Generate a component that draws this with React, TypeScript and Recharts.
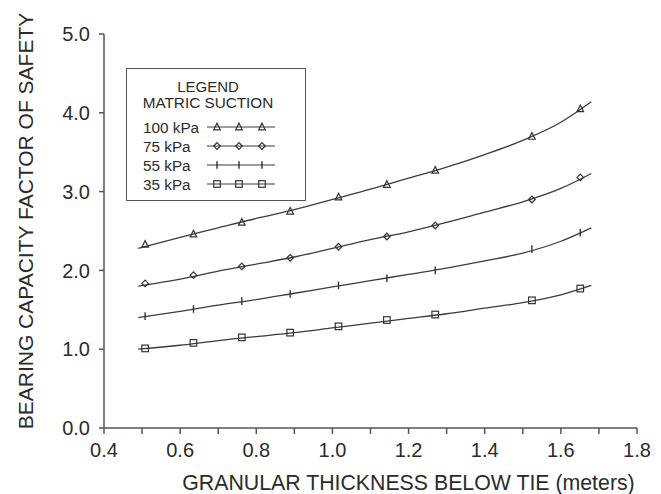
import React from 'react';
import { ComposedChart, Line, Scatter, XAxis, YAxis, Legend } from 'recharts';

// Measured points (granular thickness in meters)
const POINT_X = [0.508, 0.635, 0.762, 0.889, 1.016, 1.143, 1.27, 1.524, 1.651];
const P100 = [2.33, 2.46, 2.61, 2.75, 2.93, 3.09, 3.27, 3.7, 4.05];
const P75 = [1.835, 1.94, 2.05, 2.16, 2.3, 2.43, 2.57, 2.9, 3.18];
const P55 = [1.42, 1.51, 1.61, 1.7, 1.81, 1.9, 2.0, 2.27, 2.48];
const P35 = [1.01, 1.08, 1.15, 1.21, 1.29, 1.37, 1.44, 1.62, 1.77];

// Fitted curves
const CURVE_X = [0.49, 0.6, 0.7, 0.8, 0.9, 1.0, 1.1, 1.2, 1.3, 1.4, 1.5, 1.6, 1.68];
const C100 = [2.28, 2.42, 2.54, 2.66, 2.77, 2.9, 3.03, 3.17, 3.31, 3.47, 3.65, 3.88, 4.14];
const C75 = [1.8, 1.89, 1.99, 2.08, 2.17, 2.28, 2.39, 2.49, 2.61, 2.74, 2.87, 3.04, 3.23];
const C55 = [1.4, 1.48, 1.56, 1.63, 1.71, 1.79, 1.87, 1.95, 2.03, 2.12, 2.22, 2.37, 2.54];
const C35 = [1.0, 1.05, 1.11, 1.16, 1.21, 1.27, 1.33, 1.39, 1.45, 1.52, 1.59, 1.69, 1.81];

const X_TICKS = [0.4, 0.5, 0.6, 0.7, 0.8, 0.9, 1.0, 1.1, 1.2, 1.3, 1.4, 1.5, 1.6, 1.7, 1.8];
const Y_TICKS = [0, 1, 2, 3, 4, 5];

const SERIES_NAMES = ['100 kPa', '75 kPa', '55 kPa', '35 kPa'];
const MARKERS = ['triangle', 'diamond', 'bar', 'square'];
const POINTS = [P100, P75, P55, P35];
const CURVES = [C100, C75, C55, C35];

const X_LABEL = 'GRANULAR THICKNESS BELOW TIE (meters)';
const Y_LABEL = 'BEARING CAPACITY FACTOR OF SAFETY';
const LEGEND_TITLE = 'LEGEND';
const LEGEND_SUBTITLE = 'MATRIC SUCTION';

const FONT = '"Liberation Sans", Arial, Helvetica, sans-serif';
const INK = '#2b2b2b';
const LINE = '#3c3c3c';
const AXIS = '#555';

const series = SERIES_NAMES.map((name, i) => ({
  name,
  marker: MARKERS[i],
  points: POINT_X.map((x, j) => ({ x, y: POINTS[i][j] })),
  curve: CURVE_X.map((x, j) => ({ x, y: CURVES[i][j] })),
}));

function Marker({ cx, cy, kind }: { cx: number; cy: number; kind: string }) {
  const st = { stroke: '#333', strokeWidth: 1.2, fill: 'none' };
  const s = 3.3;
  if (kind === 'triangle') {
    return <path d={`M${cx},${cy - s - 0.5}L${cx + s},${cy + s - 0.5}L${cx - s},${cy + s - 0.5}Z`} {...st} />;
  }
  if (kind === 'diamond') {
    return <path d={`M${cx},${cy - s}L${cx + s},${cy}L${cx},${cy + s}L${cx - s},${cy}Z`} {...st} />;
  }
  if (kind === 'bar') {
    return <path d={`M${cx},${cy - s - 0.5}L${cx},${cy + s + 0.5}`} {...st} strokeWidth={1.4} />;
  }
  return <rect x={cx - s} y={cy - s} width={2 * s} height={2 * s} {...st} />;
}

function LegendBox() {
  const w = 180;
  const h = 133;
  return (
    <div style={{ width: w, height: h, boxSizing: 'border-box', border: `1.5px solid ${AXIS}`, background: '#fff' }}>
      <svg width={w - 3} height={h - 3} style={{ display: 'block' }}>
        <text x={81} y={17} textAnchor="middle" dominantBaseline="central" fontSize={15} fill={INK} fontFamily={FONT}>
          {LEGEND_TITLE}
        </text>
        <text x={81} y={33} textAnchor="middle" dominantBaseline="central" fontSize={15.3} fill={INK} fontFamily={FONT}>
          {LEGEND_SUBTITLE}
        </text>
        {series.map((s, i) => {
          const cy = 58 + i * 19;
          return (
            <g key={s.name}>
              <text x={16} y={cy} dominantBaseline="central" fontSize={15.3} fill={INK} fontFamily={FONT}>
                {s.name}
              </text>
              <line x1={80} x2={148} y1={cy} y2={cy} stroke={LINE} strokeWidth={1.1} />
              {[90, 112, 135].map((mx) => (
                <Marker key={mx} cx={mx} cy={cy} kind={s.marker} />
              ))}
            </g>
          );
        })}
      </svg>
    </div>
  );
}

export default function App() {
  return (
    <div style={{ position: 'absolute', left: 0, top: 0, width: 661, height: 494, background: '#fff' }}>
      <ComposedChart width={661} height={494} margin={{ top: 34, right: 24, bottom: 0, left: 0 }}>
        <XAxis
          xAxisId="b"
          dataKey="x"
          type="number"
          domain={[0.4, 1.8]}
          ticks={X_TICKS}
          interval={0}
          allowDataOverflow
          height={66}
          tickSize={6}
          tickMargin={9}
          tickFormatter={(v: number) => (Math.round(v * 10) % 2 === 0 ? v.toFixed(1) : '')}
          stroke={AXIS}
          strokeWidth={1.5}
          tick={{ fill: INK, fontSize: 20, fontFamily: FONT }}
          label={{
            content: (p: any) => (
              <text
                x={p.viewBox.x + p.viewBox.width / 2 + 38}
                y={483}
                textAnchor="middle"
                dominantBaseline="central"
                fontSize={21.3}
                fill={INK}
                fontFamily={FONT}
              >
                {X_LABEL}
              </text>
            ),
          }}
        />
        <XAxis
          xAxisId="t"
          orientation="top"
          type="number"
          domain={[0.4, 1.8]}
          height={0}
          tick={false}
          tickLine={false}
          stroke="#777"
          strokeWidth={1.5}
        />
        <YAxis
          yAxisId="l"
          type="number"
          domain={[0, 5]}
          ticks={Y_TICKS}
          interval={0}
          width={104}
          tickSize={5}
          tickMargin={9}
          tickFormatter={(v: number) => v.toFixed(1)}
          stroke={AXIS}
          strokeWidth={1.5}
          tick={{ fill: INK, fontSize: 20, fontFamily: FONT }}
          label={{
            content: (p: any) => {
              const cx = 25;
              const cy = p.viewBox.y + p.viewBox.height / 2 - 10;
              return (
                <text
                  x={cx}
                  y={cy}
                  transform={`rotate(-90, ${cx}, ${cy})`}
                  textAnchor="middle"
                  dominantBaseline="central"
                  fontSize={21}
                  fill={INK}
                  fontFamily={FONT}
                >
                  {Y_LABEL}
                </text>
              );
            },
          }}
        />
        <YAxis
          yAxisId="r"
          orientation="right"
          type="number"
          domain={[0, 5]}
          width={0}
          tick={false}
          tickLine={false}
          stroke="#777"
          strokeWidth={1.5}
        />
        {series.map((s) => (
          <Line
            key={`c-${s.name}`}
            xAxisId="b"
            yAxisId="l"
            data={s.curve}
            dataKey="y"
            type="monotone"
            stroke={LINE}
            strokeWidth={1.3}
            dot={false}
            activeDot={false}
            legendType="none"
            isAnimationActive={false}
          />
        ))}
        {series.map((s) => (
          <Scatter
            key={`p-${s.name}`}
            xAxisId="b"
            yAxisId="l"
            data={s.points}
            dataKey="y"
            name={s.name}
            shape={(p: any) => <Marker cx={p.cx} cy={p.cy} kind={s.marker} />}
            isAnimationActive={false}
          />
        ))}
        <Legend
          layout="horizontal"
          verticalAlign="middle"
          align="center"
          content={() => <LegendBox />}
          wrapperStyle={{ left: 126, top: 68, width: 180, height: 133 }}
        />
      </ComposedChart>
    </div>
  );
}
